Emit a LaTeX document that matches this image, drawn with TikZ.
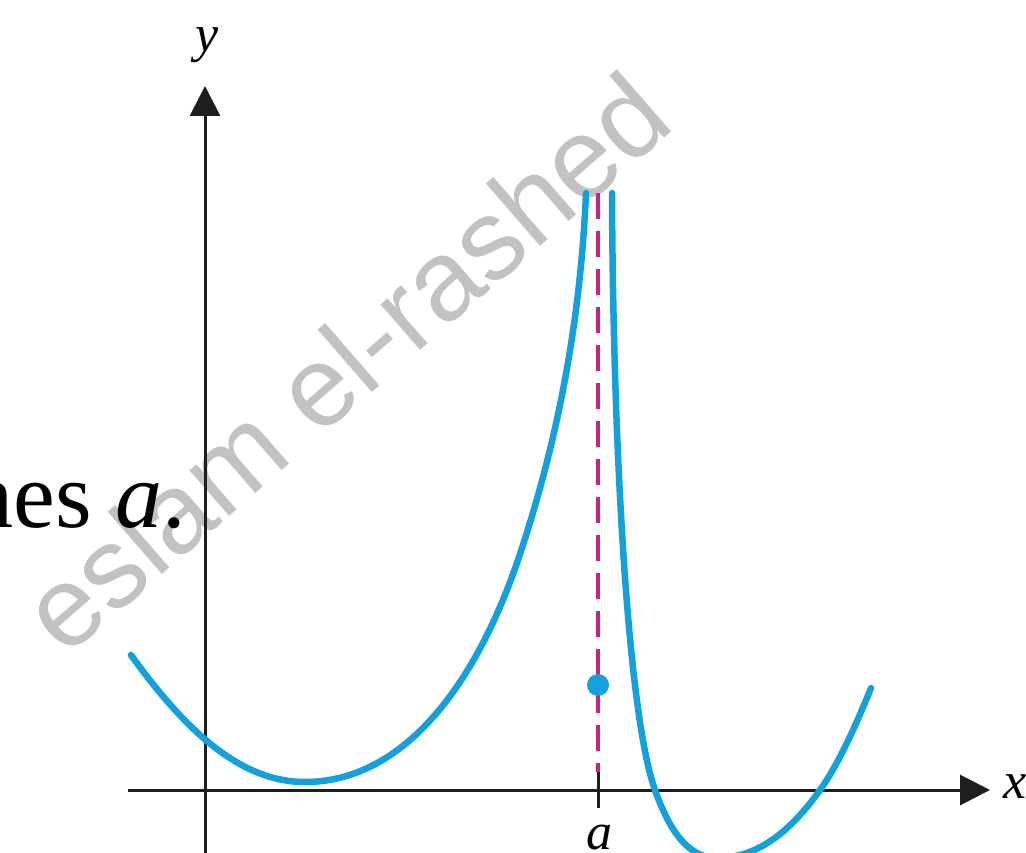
\documentclass[tikz,border=0pt]{standalone}
\usepackage{fontspec}
\setmainfont{Liberation Serif}
\newfontfamily\wmfont{Liberation Sans}
\usetikzlibrary{arrows.meta}
\definecolor{curveblue}{RGB}{20,160,218}
\definecolor{asymag}{RGB}{200,35,130}
\definecolor{axisgray}{RGB}{30,30,30}
\begin{document}
\begin{tikzpicture}[x=1pt,y=-1pt,
  axisline/.style={draw=axisgray,line width=3pt,-{Triangle[length=30pt,width=30pt]}},
  graphline/.style={draw=curveblue,line width=6.5pt,line cap=round},
  asym/.style={draw=asymag,line width=3.3pt,dash pattern=on 26pt off 12pt},
  lbl/.style={font=\fontsize{52}{56}\selectfont\itshape,inner sep=0pt}
]
\useasboundingbox (0,0) rectangle (1026,853);
\begin{scope}
\clip (0,0) rectangle (1026,853);
% watermark
\node[font=\wmfont\fontsize{114}{116}\selectfont,text=black!24,rotate=41,inner sep=0pt] (wm) at (345,362) {eslam el-rashed};
% text fragment
\node[font=\fontsize{94}{100}\selectfont,anchor=base east,inner sep=0pt] (frag) at (186,527) {hes \textit{a}.};
% axes
\coordinate (xs) at (128,790);
\coordinate (xe) at (990,790);
\coordinate (ys) at (205,853);
\coordinate (ye) at (205,86);
\draw[axisline] (xs) -- (xe);
\draw[axisline] (ys) -- (ye);
\node[lbl] (ylab) at (207,45) {y};
\node[lbl,anchor=west] (xlab) at (1003,787) {x};
% asymptote and tick
\coordinate (at) at (598,193);
\coordinate (ab) at (598,772);
\draw[asym] (at) -- (ab);
\coordinate (t1) at (598,772);
\coordinate (t2) at (598,808);
\draw[draw=axisgray,line width=3pt] (t1) -- (t2);
\node[lbl] (alab) at (599,838) {a};
% curve
\draw[graphline] (131,655) .. controls (185,730) and (240,782) .. (305,782)
   .. controls (395,782) and (470,700) .. (518,560)
   .. controls (555,450) and (580,330) .. (586,193);
\draw[graphline] (612,193) .. controls (613,450) and (628,715) .. (655,790)
   .. controls (672,838) and (692,858) .. (717,858)
   .. controls (762,858) and (795,825) .. (820,790)
   .. controls (840,762) and (858,720) .. (871,688);
% dot
\fill[curveblue] (598,685) circle (11pt);
\node[inner sep=0pt] (dot) at (598,685) {};
\end{scope}
\end{tikzpicture}
\end{document}
